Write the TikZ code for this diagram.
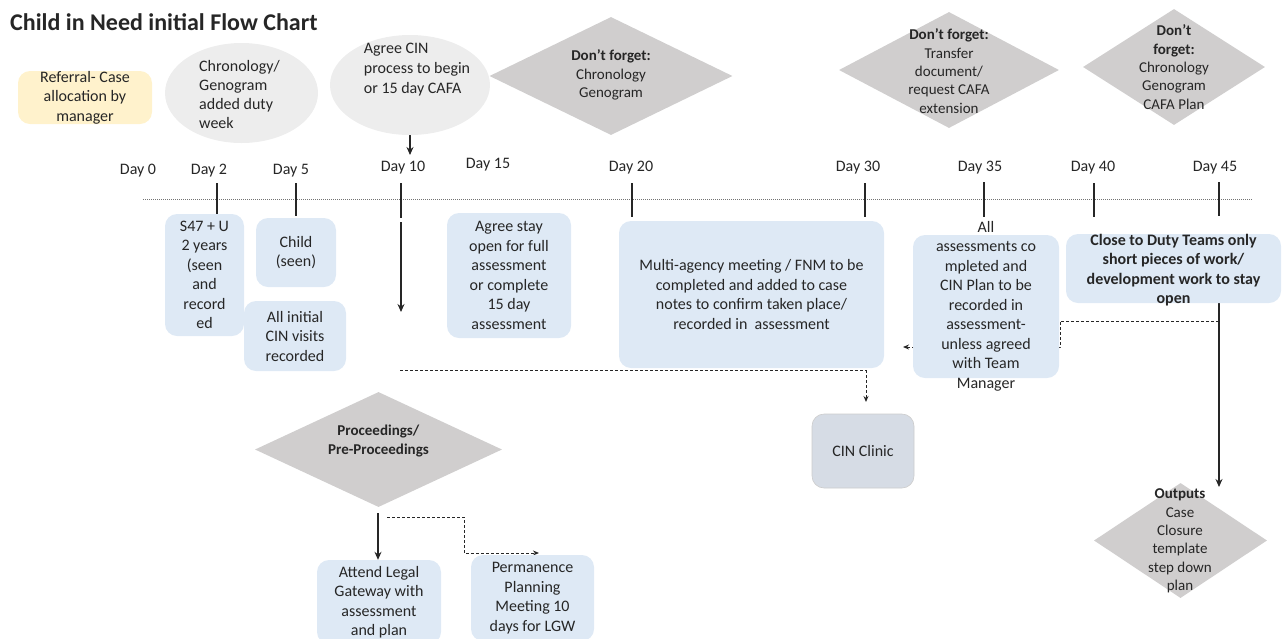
\documentclass[tikz,border=0pt]{standalone}
\usepackage{fontspec}
\setmainfont{Carlito}
\usetikzlibrary{shapes.geometric,arrows.meta}
\pgfdeclarelayer{bg}
\pgfsetlayers{bg,main}
\definecolor{txt}{HTML}{262626}
\definecolor{boxblue}{HTML}{DEE9F5}
\definecolor{clinic}{HTML}{D6DCE5}
\definecolor{ellgray}{HTML}{EDEDED}
\definecolor{diagray}{HTML}{D0CECE}
\definecolor{refyel}{HTML}{FFF2CC}
\begin{document}
\begin{tikzpicture}[x=1pt,y=-1pt,
  font=\fontsize{16}{19.5}\selectfont, text=txt,
  box/.style={rectangle, rounded corners=12pt, fill=boxblue, align=center, inner sep=0pt},
  refbox/.style={box, fill=refyel},
  clinicbox/.style={box, fill=clinic, draw=black!20, line width=0.6pt},
  ell/.style={ellipse, fill=ellgray, inner sep=0pt},
  dia/.style={diamond, fill=diagray, inner sep=0pt},
  diat/.style={align=center, inner sep=0pt, font=\fontsize{15}{18.3}\selectfont},
  plain/.style={align=center, inner sep=0pt},
  daylab/.style={inner sep=0pt},
  tickline/.style={line width=1.2pt, draw=txt},
  timeline/.style={draw=black!55, line width=0.8pt, dash pattern=on 1pt off 1pt},
  arr/.style={line width=1.2pt, draw=txt, -{Stealth[length=8pt,width=7pt]}},
  darr/.style={line width=1pt, draw=txt, dash pattern=on 3pt off 2pt, -{Stealth[length=6pt,width=5pt]}},
  dline/.style={line width=1pt, draw=txt, dash pattern=on 3pt off 2pt}
]
\useasboundingbox (0,0) rectangle (1286,638);

% title
\node[anchor=base west, inner sep=0pt, font=\fontsize{24}{28}\selectfont\bfseries] (title) at (10,30) {Child in Need initial Flow Chart};

% top row
\node[refbox, minimum width=134pt, minimum height=53pt] (ref) at (85,97.5) {Referral- Case\\allocation by\\manager};
\node[ell, minimum width=153pt, minimum height=100pt] (ell1) at (241.5,93) {};
\node[align=left, inner sep=0pt, font=\fontsize{16}{19}\selectfont] (ell1t) at (239.5,94.5) {Chronology/\\Genogram\\added duty\\week};
\node[ell, minimum width=160pt, minimum height=100pt] (ell2) at (410,85) {};
\node[align=left, inner sep=0pt, font=\fontsize{16}{20}\selectfont] (ell2t) at (417,70) {Agree CIN\\process to begin\\or 15 day CAFA};

\node[dia, minimum width=243pt, minimum height=118pt] (dia1) at (611,76) {};
\node[diat] (dia1t) at (611,75) {\textbf{Don’t forget:}\\Chronology\\Genogram};
\node[dia, minimum width=220pt, minimum height=116pt] (dia2) at (949,70) {};
\node[diat] (dia2t) at (949,71) {\textbf{Don’t forget:}\\Transfer\\document/\\request CAFA\\extension};
\node[dia, minimum width=182pt, minimum height=116pt] (dia3) at (1174,67) {};
\node[diat] (dia3t) at (1174,67) {\textbf{Don't}\\\textbf{forget:}\\Chronology\\Genogram\\CAFA Plan};

% day labels
\node[daylab] (d0) at (138,171) {Day 0};
\node[daylab] (d2) at (209,171) {Day 2};
\node[daylab] (d5) at (291,171) {Day 5};
\node[daylab] (d10) at (403,168) {Day 10};
\node[daylab] (d15) at (488,165) {Day 15};
\node[daylab] (d20) at (631,168) {Day 20};
\node[daylab] (d30) at (858,168) {Day 30};
\node[daylab] (d35) at (980,168) {Day 35};
\node[daylab] (d40) at (1093,168) {Day 40};
\node[daylab] (d45) at (1215,168) {Day 45};

% boxes
\node[box, minimum width=79pt, minimum height=122pt] (s47) at (204.5,275) {S47 + U\\2 years\\(seen\\and\\record\\ed};
\node[box, minimum width=80pt, minimum height=69pt] (child) at (296,252.5) {Child\\(seen)};
\node[box, minimum width=102pt, minimum height=70pt] (visits) at (295,336) {All initial\\CIN visits\\recorded};
\node[box, minimum width=124pt, minimum height=125pt] (stay) at (509,275.5) {Agree stay\\open for full\\assessment\\or complete\\15 day\\assessment};
\node[box, minimum width=265pt, minimum height=147pt] (multi) at (751.5,294.5) {Multi-agency meeting / FNM to be\\completed and added to case\\notes to confirm taken place/\\recorded in\ \ assessment};
\node[box, minimum width=146pt, minimum height=143pt] (assess) at (986,306.5) {};
\node[plain] (assesst) at (986,306) {All\\assessments co\\mpleted and\\CIN Plan to be\\recorded in\\assessment-\\unless agreed\\with Team\\Manager};
\node[box, minimum width=215pt, minimum height=69pt] (close) at (1173.5,268.5) {};
\node[plain, font=\fontsize{16}{19.5}\selectfont\bfseries] (closet) at (1173.5,270) {Close to Duty Teams only\\short pieces of work/\\development work to stay\\open};
\node[clinicbox, minimum width=102pt, minimum height=74pt] (cin) at (863,451) {CIN Clinic};

\node[dia, minimum width=247pt, minimum height=115pt] (proc) at (378.5,449.5) {};
\node[diat] (proct) at (378.5,441) {\textbf{Proceedings/}\\\textbf{Pre-Proceedings}};
\node[box, minimum width=124pt, minimum height=84pt] (legal) at (379,602) {Attend Legal\\Gateway with\\assessment\\and plan};
\node[box, minimum width=123pt, minimum height=86pt] (perm) at (532.5,598) {Permanence\\Planning\\Meeting 10\\days for LGW};

\node[dia, minimum width=173pt, minimum height=115pt] (outd) at (1180.5,540.5) {};
\node[diat] (outt) at (1180,541) {\textbf{Outputs}\\Case\\Closure\\template\\step down\\plan};

% coordinates for free ends
\coordinate (e2end) at (410,155);
\coordinate (a10s) at (401,222);
\coordinate (a10e) at (401,312);
\coordinate (c10d) at (400,370);
\coordinate (c30) at (866,370);
\coordinate (c30e) at (866,402);
\coordinate (c45) at (1219,321);
\coordinate (c45b) at (1060,347);
\coordinate (c45e) at (903,347);
\coordinate (out45) at (1219,487);
\coordinate (pa) at (378,513);
\coordinate (pb) at (387,517);
\coordinate (pc) at (464,553);
\coordinate (pd) at (539,553);

\begin{pgfonlayer}{bg}
\draw[timeline] (143,199) -- (1252,199);
\draw[tickline] (217,183) -- (217,214);
\draw[tickline] (296,183) -- (296,216);
\draw[tickline] (401,183) -- (401,218);
\draw[tickline] (632,183) -- (632,217);
\draw[tickline] (865,183) -- (865,217);
\draw[tickline] (984,182) -- (984,217);
\draw[tickline] (1094,183) -- (1094,217);
\draw[tickline] (1219,182) -- (1219,216);
\draw[arr] (ell2.south) -- (e2end);
\draw[arr] (a10s) -- (a10e);
\draw[dline] (c10d) -- (c30);
\draw[darr] (c30) -- (c30e);
\draw[darr] (c45) -| (c45b) -- (c45e);
\draw[arr] (close.south -| c45) -- (out45);
\draw[arr] (pa) -- (pa |- legal.north);
\draw[darr] (pb) -| (pc) -- (pd);
\end{pgfonlayer}
\end{tikzpicture}
\end{document}
